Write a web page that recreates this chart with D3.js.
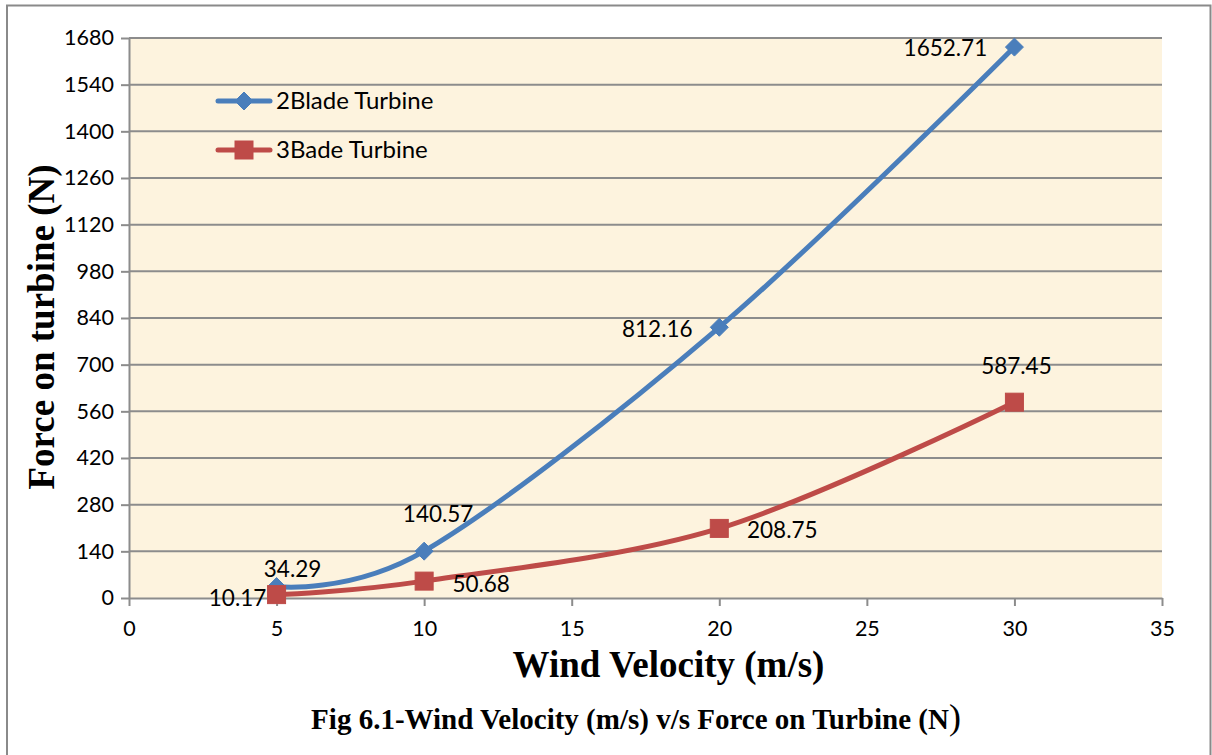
<!DOCTYPE html>
<html>
<head>
<meta charset="utf-8">
<script src="https://cdn.jsdelivr.net/npm/d3@7"></script>
<style>
  html, body { margin: 0; padding: 0; background: #ffffff; }
  svg { display: block; }
</style>
</head>
<body>
<svg id="chart" width="1212" height="755"></svg>
<script>
// Wind velocity (m/s) against force on the turbine (N)
const velocities = [5, 10, 20, 30];
const twoBladeForce = [34.29, 140.57, 812.16, 1652.71];
const threeBladeForce = [10.17, 50.68, 208.75, 587.45];
const seriesNames = ["2Blade Turbine", "3Bade Turbine"];
const xTicks = [0, 5, 10, 15, 20, 25, 30, 35];
const yTicks = [0, 140, 280, 420, 560, 700, 840, 980, 1120, 1260, 1400, 1540, 1680];

const svg = d3.select("#chart");
const W = 1212, H = 755;
const plot = { left: 129, right: 1162, top: 38, bottom: 598 };

const x = d3.scaleLinear().domain([0, 35]).range([plot.left, plot.right]);
const y = d3.scaleLinear().domain([0, 1680]).range([plot.bottom, plot.top]);

const labelFont = "Lato, 'Open Sans', 'Liberation Sans', sans-serif";
const serif = "'Liberation Serif', 'Times New Roman', serif";

// outer frame
svg.append("path")
  .attr("d", `M7,${H + 2} V5.5 H1210.5 V${H + 2}`)
  .attr("fill", "none").attr("stroke", "#8a8a8a").attr("stroke-width", 2);

// parchment-like plot background
const defs = svg.append("defs");
const f = defs.append("filter").attr("id", "paper")
  .attr("x", 0).attr("y", 0).attr("width", "100%").attr("height", "100%");
f.append("feTurbulence").attr("type", "fractalNoise")
  .attr("baseFrequency", "0.012 0.03").attr("numOctaves", 3).attr("seed", 7).attr("result", "noise");
f.append("feColorMatrix").attr("in", "noise").attr("type", "matrix")
  .attr("values", "0 0 0 0 0.97  0 0 0 0 0.92  0 0 0 0 0.76  0 0 0 0.5 -0.2")
  .attr("result", "tint");
f.append("feComposite").attr("in", "tint").attr("in2", "SourceGraphic").attr("operator", "atop");

svg.append("rect")
  .attr("x", plot.left).attr("y", plot.top)
  .attr("width", plot.right - plot.left).attr("height", plot.bottom - plot.top)
  .attr("fill", "#fdf3de");
svg.append("rect")
  .attr("x", plot.left).attr("y", plot.top)
  .attr("width", plot.right - plot.left).attr("height", plot.bottom - plot.top)
  .attr("fill", "#fdf3de").attr("filter", "url(#paper)").attr("opacity", 0.45);

// horizontal gridlines
svg.append("g").selectAll("line")
  .data(yTicks.filter(d => d > 0))
  .join("line")
  .attr("x1", plot.left).attr("x2", plot.right)
  .attr("y1", d => y(d)).attr("y2", d => y(d))
  .attr("stroke", "#8c8c8c").attr("stroke-width", 2);

// y axis
const yAxis = svg.append("g")
  .attr("transform", `translate(${plot.left},0)`)
  .call(d3.axisLeft(y).tickValues(yTicks).tickSize(8).tickSizeOuter(0).tickPadding(7).tickFormat(d3.format("d")));
// x axis
const xAxis = svg.append("g")
  .attr("transform", `translate(0,${plot.bottom})`)
  .call(d3.axisBottom(x).tickValues(xTicks).tickSize(8).tickSizeOuter(0).tickPadding(15).tickFormat(d3.format("d")));

[yAxis, xAxis].forEach(g => {
  g.select(".domain").attr("stroke", "#8c8c8c").attr("stroke-width", 2);
  g.selectAll(".tick line").attr("stroke", "#8c8c8c").attr("stroke-width", 2);
  g.selectAll(".tick text").attr("fill", "#000").attr("font-family", labelFont).attr("font-size", 21.5);
});

// series
const series = [
  { name: seriesNames[0], values: twoBladeForce, color: "#4a7ebb", marker: "diamond" },
  { name: seriesNames[1], values: threeBladeForce, color: "#be4b48", marker: "square" }
];

const line = d3.line()
  .x(d => x(d[0])).y(d => y(d[1]))
  .curve(d3.curveCatmullRom.alpha(0));

function drawMarker(g, type, cx, cy, color) {
  if (type === "diamond") {
    const r = 9;
    g.append("path")
      .attr("d", `M${cx},${cy - r} L${cx + r},${cy} L${cx},${cy + r} L${cx - r},${cy} Z`)
      .attr("fill", color).attr("stroke", color).attr("stroke-width", 1);
  } else {
    const s = 18;
    g.append("rect")
      .attr("x", cx - s / 2).attr("y", cy - s / 2).attr("width", s).attr("height", s)
      .attr("fill", color).attr("stroke", color).attr("stroke-width", 1);
  }
}

series.forEach(s => {
  const pts = velocities.map((v, i) => [v, s.values[i]]);
  svg.append("path")
    .datum(pts)
    .attr("d", line)
    .attr("fill", "none")
    .attr("stroke", s.color)
    .attr("stroke-width", 5)
    .attr("stroke-linecap", "round");
  const mg = svg.append("g");
  pts.forEach(p => drawMarker(mg, s.marker, x(p[0]), y(p[1]), s.color));
});

// data labels (offsets from each point, centred)
const labelOffsets = [
  [[16, -18], [14, -38], [-62, 1], [-69, 0]],
  [[-39, 3], [57, 2], [63, 1], [2, -37]]
];
series.forEach((s, si) => {
  velocities.forEach((v, i) => {
    const [dx, dy] = labelOffsets[si][i];
    svg.append("text")
      .attr("x", x(v) + dx).attr("y", y(s.values[i]) + dy)
      .attr("text-anchor", "middle")
      .attr("dominant-baseline", "central")
      .attr("font-family", labelFont).attr("font-size", 22.5)
      .attr("fill", "#000")
      .text(s.values[i].toFixed(2));
  });
});

// legend
const legend = svg.append("g");
series.forEach((s, i) => {
  const ly = 101 + i * 49;
  legend.append("line")
    .attr("x1", 218).attr("x2", 270).attr("y1", ly).attr("y2", ly)
    .attr("stroke", s.color).attr("stroke-width", 5).attr("stroke-linecap", "round");
  drawMarker(legend, s.marker, 244, ly, s.color);
  legend.append("text")
    .attr("x", 276).attr("y", ly - 2)
    .attr("dominant-baseline", "central")
    .attr("font-family", labelFont).attr("font-size", 24)
    .attr("fill", "#000")
    .text(s.name);
});

// axis titles
svg.append("text")
  .attr("x", (plot.left + plot.right) / 2 + 23).attr("y", 677)
  .attr("text-anchor", "middle")
  .attr("font-family", serif).attr("font-weight", "bold").attr("font-size", 37)
  .attr("fill", "#000")
  .text("Wind Velocity (m/s)");

svg.append("text")
  .attr("transform", `translate(54,327) rotate(-90)`)
  .attr("text-anchor", "middle")
  .attr("font-family", serif).attr("font-weight", "bold").attr("font-size", 37)
  .attr("fill", "#000")
  .text("Force on turbine (N)");

// figure caption
const cap = svg.append("text")
  .attr("x", 636).attr("y", 729)
  .attr("text-anchor", "middle")
  .attr("font-family", serif).attr("font-weight", "bold").attr("font-size", 29)
  .attr("fill", "#000");
cap.append("tspan").text("Fig 6.1-Wind Velocity (m/s) v/s Force on Turbine (N");
cap.append("tspan").attr("font-size", 36).attr("font-weight", "normal").text(")");
</script>
</body>
</html>
